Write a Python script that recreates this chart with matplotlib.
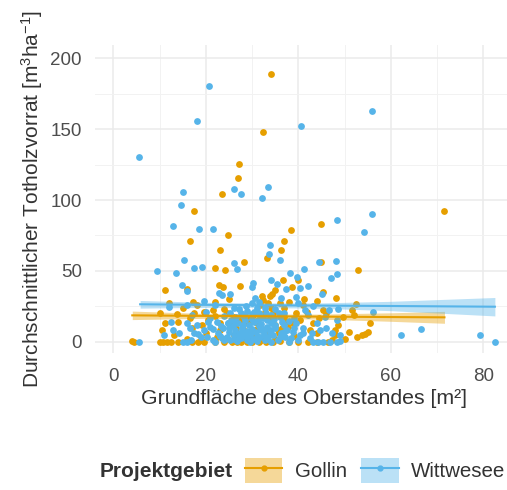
import matplotlib
matplotlib.use("Agg")
import matplotlib.pyplot as plt
import numpy as np
from matplotlib.patches import Patch
from matplotlib.lines import Line2D

plt.rcParams['font.family'] = ['Liberation Sans', 'DejaVu Sans']
plt.rcParams['mathtext.fontset'] = 'custom'
plt.rcParams['mathtext.rm'] = 'Liberation Sans'
plt.rcParams['mathtext.it'] = 'Liberation Sans:italic'

# ---------------- data ----------------
wit_x = [5.6, 20.7, 18.2, 40.6, 55.9, 15.0, 14.6, 26.2, 27.7, 33.5, 32.1, 55.9, 12.8, 18.5, 21.6, 48.4, 54.1,
         33.9, 33.7, 15.3, 36.1, 26.2, 26.8, 17.4, 19.1, 9.4, 13.6, 41.2, 44.5, 48.1, 38.2, 39.7, 47.0, 48.4,
         14.8, 15.9, 34.1, 35.4, 37.3, 40.4, 42.0, 30.2, 29.9, 22.8, 25.2, 23.6, 45.1, 36.3, 39.5, 12.0, 43.2,
         46.6, 48.6, 56.2, 62.2, 66.5, 79.3, 82.5, 5.6,
         14.1, 15.1, 15.9, 15.9, 16.9, 18.4, 20.2, 20.9, 21.6, 22.7, 23.4, 23.8, 24.9, 29.9, 30.6, 31.4, 32.8,
         33.2, 34.2, 36.0, 37.5, 38.5, 39.6, 40.4, 41.4, 42.5, 43.2, 44.3, 45.4, 46.8, 48.3, 49.0, 44.7, 45.8,
         47.2, 48.3, 49.0,
         24.5, 25.0, 25.3, 25.8, 26.0, 26.4, 26.8, 27.0, 27.3, 27.6, 27.9, 28.2, 28.5, 28.8, 29.0, 29.3, 29.6,
         29.9, 30.2, 30.5, 30.8, 31.1, 31.4, 31.7, 32.0, 32.3, 32.6, 32.9, 33.2, 33.5, 33.8, 34.1, 34.5, 35.0,
         35.5, 36.2, 36.8, 37.2, 38.0, 38.8, 26.5, 27.5, 28.0, 29.0, 30.0, 31.0, 31.5, 30.0, 28.7, 25.5, 24.0,
         22.5, 21.0, 19.5, 18.0, 17.0, 13.0, 12.5, 11.0, 26.0, 35.0, 37.0, 40.0, 42.0, 44.0, 46.0, 22.0, 20.0,
         19.5, 16.0, 34.0, 36.5, 39.0, 41.0, 43.0,
         22.0, 23.0, 24.0, 25.0, 26.0, 27.0, 28.0, 29.0, 30.0, 31.0, 32.0, 33.0, 34.0, 35.0, 36.0, 37.0, 38.0,
         39.0, 40.0, 41.0, 24.7, 26.3, 27.8, 29.5, 31.2, 32.8, 34.8, 23.3, 21.5, 20.5, 19.0, 17.5, 16.5, 28.4,
         30.4, 33.0, 27.2, 25.2, 31.8, 35.8]
wit_y = [130.6, 180.5, 155.5, 152.5, 162.6, 105.6, 96.5, 108.0, 104.0, 109.4, 101.2, 90.1, 81.4, 79.5, 79.5,
         85.9, 77.2, 68.2, 61.9, 57.4, 57.4, 55.3, 51.1, 51.8, 52.5, 49.6, 48.2, 51.1, 56.0, 56.7, 48.2, 45.9,
         45.2, 47.5, 40.0, 36.0, 43.5, 40.7, 36.9, 37.6, 39.5, 41.6, 38.8, 34.6, 33.6, 32.9, 33.6, 31.1, 31.3,
         24.2, 25.2, 22.4, 22.8, 20.9, 4.5, 8.7, 4.5, 0.0, 0.0,
         6.4, 0.0, 0.0, 12.9, 1.2, 5.4, 3.5, 10.6, 1.2, 5.9, 2.4, 9.4, 12.9, 27.0, 30.6, 28.2, 23.5,
         15.3, 12.9, 17.6, 8.2, 2.4, 12.9, 4.7, 22.4, 2.4, 0.0, 0.0, 0.0, 0.0, 0.0, 0.5, 8.2, 17.2,
         5.9, 15.3, 4.7,
         3.0, 7.0, 1.0, 11.0, 4.5, 8.5, 0.5, 13.0, 6.0, 2.5, 10.0, 4.0, 15.0, 7.5, 1.5, 12.0, 5.0,
         9.0, 2.0, 14.0, 6.5, 0.5, 11.0, 3.5, 8.0, 17.0, 5.5, 1.0, 10.5, 3.0, 7.0, 0.0, 4.5, 9.5,
         1.5, 6.0, 11.5, 3.5, 14.5, 7.0, 17.5, 20.0, 18.0, 22.0, 19.5, 24.0, 20.5, 16.0, 25.0, 15.5, 18.0,
         14.0, 16.5, 8.0, 12.0, 19.0, 8.0, 14.0, 5.0, 24.0, 23.0, 20.0, 27.0, 19.0, 13.0, 10.0, 26.0, 21.0,
         29.0, 26.0, 18.5, 14.0, 17.0, 10.0, 6.0,
         0.0, 4.0, 1.0, 9.5, 2.0, 5.0, 11.5, 3.0, 7.0, 4.0, 12.5, 2.0, 8.5, 12.0, 3.0, 6.5, 0.0,
         10.0, 1.0, 6.0, 13.5, 14.0, 7.5, 0.0, 15.5, 9.0, 16.0, 11.0, 9.0, 14.0, 3.0, 6.0, 9.5, 19.0,
         21.0, 20.0, 23.0, 20.5, 18.0, 20.5]

gol_x = [34.1, 32.4, 27.2, 27.0, 23.5, 17.5, 71.6, 45.0, 38.5, 16.6, 24.9, 37.0, 23.1, 36.3, 33.3, 28.3, 45.0,
         21.9, 24.2, 53.0, 11.1, 16.0, 22.8, 23.8, 27.4, 36.7, 38.6, 40.0, 35.0, 32.1, 33.8, 34.4, 45.3, 48.1,
         41.3, 17.2, 52.5, 51.5,
         4.1, 4.5, 10.1, 10.8, 11.7, 11.1, 10.0, 13.7, 13.2, 17.5, 18.4, 18.9, 19.2, 19.5, 20.5, 21.5, 21.9,
         22.5, 23.1, 24.5, 25.6, 26.7, 27.7, 28.8, 26.1, 27.4, 29.2, 30.3, 31.0, 31.7, 32.3, 32.8, 33.5, 34.6,
         34.9, 35.5, 35.9, 36.4, 36.8, 37.5, 38.9, 39.6, 40.4, 41.8, 42.5, 43.2, 44.1, 44.5, 45.4, 46.5, 47.2,
         47.9, 48.6, 49.7, 51.0, 52.6, 53.7, 54.4, 55.1, 55.5,
         15.0, 16.5, 18.0, 22.0, 24.0, 25.0, 23.0, 26.0, 28.0, 30.0, 32.0, 33.0, 35.0, 36.0, 37.0, 38.0, 39.0,
         41.0, 42.0, 44.0, 46.0, 48.0, 50.0, 52.0, 20.0, 17.0, 14.0, 12.0, 10.5, 16.0, 37.8, 33.8, 31.0,
         12.5, 14.0, 17.0, 19.5, 22.0, 24.0, 30.0, 31.5, 33.0, 34.5, 38.0, 40.0, 44.0, 26.5, 29.5, 34.0,
         36.0, 30.5, 27.8, 25.2]
gol_y = [188.7, 148.2, 125.4, 115.5, 104.0, 92.2, 92.2, 83.1, 78.8, 71.3, 75.3, 71.3, 64.5, 64.9, 58.8, 56.0,
         56.5, 51.8, 50.6, 50.6, 36.5, 36.9, 40.0, 38.4, 39.3, 43.5, 38.8, 43.5, 36.5, 32.5, 32.5, 33.6, 34.8,
         31.1, 29.9, 28.2, 26.4, 22.4,
         0.7, 0.0, 0.0, 0.0, 0.0, 12.9, 20.0, 19.5, 4.7, 20.5, 0.0, 1.2, 11.8, 21.2, 15.3, 22.4, 18.1,
         3.5, 8.2, 20.0, 0.0, 0.0, 0.0, 0.0, 17.6, 15.3, 12.9, 18.8, 12.9, 25.9, 29.4, 21.2, 27.0, 20.0,
         11.8, 8.2, 5.9, 9.4, 17.6, 14.1, 12.9, 20.0, 15.3, 21.2, 8.2, 12.9, 5.9, 16.5, 22.4, 0.0, 1.2,
         4.7, 11.8, 17.6, 7.1, 3.5, 4.7, 5.4, 7.1, 13.4,
         24.0, 17.0, 26.0, 28.0, 23.0, 30.0, 13.0, 5.0, 9.0, 3.0, 1.0, 6.0, 2.0, 0.5, 24.0, 28.0, 4.0,
         26.0, 0.0, 29.0, 20.0, 8.0, 2.0, 19.0, 6.0, 10.0, 14.0, 27.0, 8.0, 2.0, 10.5, 16.0, 9.0,
         0.0, 0.0, 0.0, 0.0, 0.0, 0.0, 0.0, 0.0, 0.0, 0.0, 0.0, 0.0, 0.0, 10.0, 16.5, 24.0,
         27.0, 5.0, 2.5, 12.0]

# linear fit lines: x, fitted y, half-width of 95% band
gol_fit_x = [4.1, 20, 30, 45, 60, 71.6]
gol_fit_y = [18.6, 18.2, 18.0, 17.7, 17.4, 17.2]
gol_fit_hw = [3.0, 1.7, 1.5, 1.8, 3.0, 4.2]
wit_fit_x = [5.8, 20, 30, 45, 60, 82.5]
wit_fit_y = [26.4, 26.0, 25.8, 25.5, 25.2, 24.7]
wit_fit_hw = [2.7, 1.8, 1.6, 1.9, 3.3, 6.5]

groups = ["Gollin", "Wittwesee"]
colors = {"Gollin": "#E69F00", "Wittwesee": "#56B4E9"}

x_ticks = [0, 20, 40, 60, 80]
y_ticks = [0, 50, 100, 150, 200]

# ---------------- figure ----------------
W, H = 507, 490
fig = plt.figure(figsize=(W / 100, H / 100), dpi=100)
x0, x1 = -3.96, 86.6
px_per_x = 4.625
ax_left, ax_top, ax_bot = 95, 45, 353
ax_w = (x1 - x0) * px_per_x
ax = fig.add_axes([ax_left / W, (H - ax_bot) / H, ax_w / W, (ax_bot - ax_top) / H])
ax.set_xlim(x0, x1)
ax.set_ylim(-7.97, 209.4)

for s in ax.spines.values():
    s.set_visible(False)
ax.set_xticks(x_ticks)
ax.set_yticks(y_ticks)
ax.set_xticks([10, 30, 50, 70], minor=True)
ax.set_yticks([25, 75, 125, 175], minor=True)
ax.grid(True, which='major', color='#EBEBEB', lw=1.1)
ax.grid(True, which='minor', color='#F2F2F2', lw=0.7)
ax.set_axisbelow(True)
ax.tick_params(which='both', length=0)
ax.tick_params(axis='y', pad=9.5, labelsize=13.5, labelcolor='#4D4D4D')
ax.tick_params(axis='x', pad=10.5, labelsize=13.5, labelcolor='#4D4D4D')

ax.scatter(gol_x, gol_y, s=24, color=colors["Gollin"], linewidths=0, zorder=2)
ax.scatter(wit_x, wit_y, s=24, color=colors["Wittwesee"], linewidths=0, zorder=2)

for fx, fy, hw, g in [(gol_fit_x, gol_fit_y, gol_fit_hw, "Gollin"),
                      (wit_fit_x, wit_fit_y, wit_fit_hw, "Wittwesee")]:
    fy = np.array(fy); hw = np.array(hw)
    ax.fill_between(fx, fy - hw, fy + hw, color=colors[g], alpha=0.4, lw=0, zorder=3)
    ax.plot(fx, fy, color=colors[g], lw=1.5, zorder=4)

ax.set_xlabel("Grundfläche des Oberstandes [m²]", fontsize=15.3, color='#333333', labelpad=3)
ax.set_ylabel(r"Durchschnittlicher Totholzvorrat [m$^3$ha$^{-1}$]", fontsize=15, color='#333333', labelpad=4)

# legend
handles = []
for g in groups:
    p = Patch(facecolor=colors[g], alpha=0.4, edgecolor='none')
    l = Line2D([], [], color=colors[g], lw=1.5, marker='o', markersize=3.5)
    handles.append((p, l))
leg = fig.legend(handles, groups, ncol=2, loc='center left',
                 bbox_to_anchor=(245 / W, 1 - 470.5 / H), frameon=False,
                 fontsize=14.8, handlelength=1.82, handleheight=1.5, handletextpad=0.6,
                 columnspacing=0.7, borderpad=0, borderaxespad=0, labelcolor='#333333')
fig.text(100 / W, 1 - 471 / H, "Projektgebiet", fontsize=15, fontweight='bold',
         color='#333333', ha='left', va='center')

fig.savefig("out.png", dpi=100)
